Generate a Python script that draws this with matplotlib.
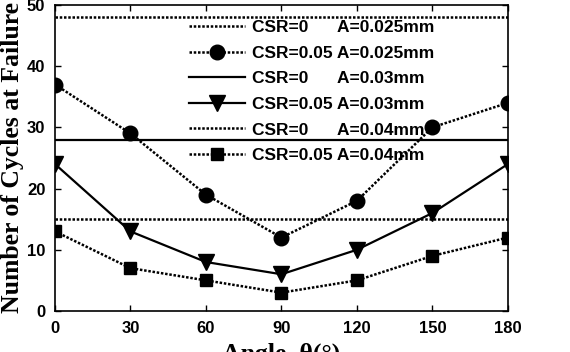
import matplotlib
matplotlib.use("Agg")
import matplotlib.pyplot as plt

angles = [0, 30, 60, 90, 120, 150, 180]
csr0_a025 = 48
csr005_a025 = [37, 29, 19, 12, 18, 30, 34]
csr0_a03 = 28
csr005_a03 = [24, 13, 8, 6, 10, 16, 24]
csr0_a04 = 15
csr005_a04 = [13, 7, 5, 3, 5, 9, 12]
xticks = [0, 30, 60, 90, 120, 150, 180]
yticks = [0, 10, 20, 30, 40, 50]

fig = plt.figure(figsize=(5.7, 3.52), dpi=100)
ax = fig.add_axes([0.0965, 0.1165, 0.7945, 0.8695])

dot = (0, (1, 0.7))
ax.axhline(csr0_a025, color='black', lw=1.8, ls=dot, label='CSR=0      A=0.025mm')
ax.plot(angles, csr005_a025, color='black', lw=1.8, ls=dot, marker='o', ms=10.5,
        label='CSR=0.05 A=0.025mm')
ax.axhline(csr0_a03, color='black', lw=1.6, ls='-', label='CSR=0      A=0.03mm')
ax.plot(angles, csr005_a03, color='black', lw=1.6, ls='-', marker='v', ms=11,
        label='CSR=0.05 A=0.03mm')
ax.axhline(csr0_a04, color='black', lw=1.8, ls=dot, label='CSR=0      A=0.04mm')
ax.plot(angles, csr005_a04, color='black', lw=1.8, ls=dot, marker='s', ms=9,
        label='CSR=0.05 A=0.04mm')

ax.set_xlim(0, 180)
ax.set_ylim(0, 50)
ax.set_xticks(xticks)
ax.set_yticks(yticks)
ax.tick_params(direction='in', top=True, right=True, length=4, width=1, pad=7)
for lab in ax.get_xticklabels() + ax.get_yticklabels():
    lab.set_fontfamily('Liberation Sans')
    lab.set_fontweight('bold')
    lab.set_fontsize(12)
for s in ax.spines.values():
    s.set_linewidth(1.2)

ax.set_ylabel('Number of Cycles at Failure', fontfamily='Liberation Serif',
              fontweight='bold', fontsize=18.5, labelpad=2)
ax.set_xlabel('Angle, θ(°)', fontfamily='Liberation Serif', fontweight='bold',
              fontsize=18.5, labelpad=5)

leg = ax.legend(loc='upper left', bbox_to_anchor=(0.27, 0.99), frameon=False,
                prop={'family': 'Liberation Sans', 'weight': 'bold', 'size': 12.5},
                handlelength=3.2, labelspacing=0.6, handletextpad=0.4,
                borderpad=0.2)

fig.savefig('out.png', dpi=100)
